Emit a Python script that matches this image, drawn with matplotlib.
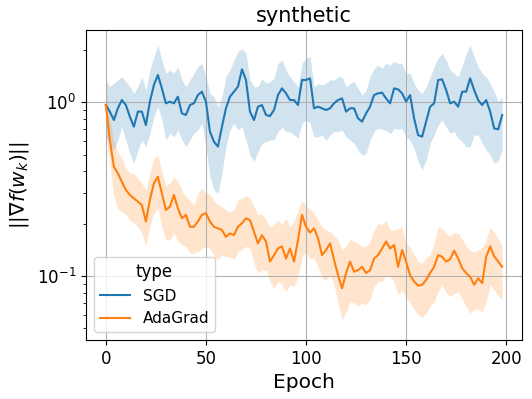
import matplotlib
matplotlib.use("Agg")
import matplotlib.pyplot as plt

# values, every 2nd epoch
epochs = list(range(0, 199, 2))

sgd_mean = [0.965, 0.884, 0.791, 0.924, 1.031, 0.965, 0.827, 0.724, 0.884, 0.884,
            0.740, 1.009, 1.258, 1.437, 1.204, 0.987, 1.009, 0.987, 1.078, 0.864,
            0.846, 0.965, 0.987, 1.102, 1.152, 1.009, 0.678, 0.593, 0.556, 0.724,
            0.924, 1.078, 1.152, 1.231, 1.549, 1.345, 0.884, 0.791, 0.944, 0.965,
            0.846, 0.834, 0.903, 1.102, 1.204, 1.127, 1.031, 1.031, 0.965, 1.345,
            1.345, 1.375, 0.924, 0.944, 0.924, 0.903, 0.924, 0.987, 1.031, 1.054,
            0.884, 0.924, 0.924, 0.809, 0.774, 0.864, 0.944, 1.102, 1.127, 1.137,
            1.054, 0.987, 1.204, 1.188, 1.127, 1.009, 1.102, 0.809, 0.648, 0.634,
            0.774, 0.944, 0.987, 1.345, 1.356, 1.178, 0.987, 1.009, 0.944, 1.152,
            1.152, 1.375, 1.178, 1.031, 0.965, 1.031, 0.884, 0.708, 0.699, 0.846]
sgd_hi = [1.345, 1.231, 1.286, 1.345, 1.405, 1.315, 1.231, 1.127, 1.231, 1.405,
          1.178, 1.535, 1.832, 2.139, 1.753, 1.469, 1.535, 1.469, 1.605, 1.345,
          1.231, 1.345, 1.469, 1.605, 1.677, 1.405, 1.127, 1.078, 0.944, 1.078,
          1.405, 1.535, 1.753, 1.957, 2.046, 1.915, 1.345, 1.231, 1.231, 1.375,
          1.286, 1.315, 1.375, 1.677, 1.753, 1.535, 1.405, 1.315, 1.231, 1.677,
          1.792, 1.832, 1.231, 1.286, 1.258, 1.286, 1.345, 1.345, 1.405, 1.405,
          1.231, 1.286, 1.315, 1.204, 1.102, 1.178, 1.405, 1.570, 1.641, 1.570,
          1.677, 1.641, 1.715, 1.677, 1.677, 1.469, 1.469, 1.286, 1.178, 1.127,
          1.231, 1.405, 1.605, 1.792, 1.915, 1.753, 1.535, 1.469, 1.405, 1.605,
          1.915, 2.139, 1.832, 1.605, 1.469, 1.405, 1.286, 1.152, 1.009, 1.078]
sgd_lo = [0.634, 0.581, 0.532, 0.607, 0.724, 0.607, 0.508, 0.445, 0.532, 0.607,
          0.556, 0.663, 0.827, 0.944, 0.791, 0.607, 0.663, 0.634, 0.693, 0.607,
          0.556, 0.607, 0.663, 0.693, 0.757, 0.556, 0.373, 0.313, 0.299, 0.390,
          0.556, 0.693, 0.757, 0.693, 0.724, 0.607, 0.497, 0.455, 0.520, 0.581,
          0.593, 0.607, 0.607, 0.678, 0.718, 0.678, 0.678, 0.648, 0.620, 0.757,
          0.791, 0.757, 0.634, 0.634, 0.648, 0.607, 0.648, 0.678, 0.678, 0.693,
          0.634, 0.607, 0.581, 0.532, 0.497, 0.508, 0.607, 0.678, 0.708, 0.699,
          0.687, 0.657, 0.708, 0.699, 0.708, 0.634, 0.601, 0.543, 0.455, 0.408,
          0.465, 0.581, 0.648, 0.740, 0.791, 0.724, 0.663, 0.678, 0.620, 0.593,
          0.556, 0.556, 0.648, 0.648, 0.581, 0.532, 0.497, 0.445, 0.461, 0.532]

ada_mean = [0.965, 0.607, 0.426, 0.390, 0.349, 0.313, 0.293, 0.280, 0.268, 0.256,
            0.206, 0.274, 0.342, 0.373, 0.299, 0.240, 0.251, 0.293, 0.245, 0.215,
            0.225, 0.192, 0.192, 0.206, 0.225, 0.230, 0.206, 0.192, 0.188, 0.184,
            0.168, 0.176, 0.172, 0.192, 0.201, 0.215, 0.210, 0.180, 0.154, 0.172,
            0.158, 0.121, 0.132, 0.144, 0.148, 0.126, 0.144, 0.121, 0.161, 0.225,
            0.192, 0.178, 0.188, 0.165, 0.132, 0.141, 0.154, 0.124, 0.101, 0.085,
            0.104, 0.121, 0.106, 0.108, 0.113, 0.104, 0.108, 0.126, 0.132, 0.144,
            0.158, 0.144, 0.151, 0.113, 0.141, 0.121, 0.101, 0.093, 0.088, 0.089,
            0.095, 0.104, 0.113, 0.132, 0.129, 0.121, 0.125, 0.140, 0.126, 0.111,
            0.104, 0.099, 0.089, 0.097, 0.091, 0.129, 0.148, 0.130, 0.121, 0.113]
ada_hi = [1.225, 0.800, 0.600, 0.520, 0.476, 0.417, 0.390, 0.390, 0.365, 0.342,
          0.313, 0.390, 0.476, 0.497, 0.399, 0.334, 0.342, 0.373, 0.349, 0.313,
          0.286, 0.274, 0.256, 0.299, 0.320, 0.299, 0.297, 0.272, 0.256, 0.251,
          0.240, 0.235, 0.242, 0.274, 0.280, 0.290, 0.280, 0.251, 0.225, 0.228,
          0.212, 0.191, 0.197, 0.210, 0.197, 0.215, 0.192, 0.206, 0.240, 0.274,
          0.251, 0.245, 0.230, 0.210, 0.192, 0.184, 0.180, 0.170, 0.161, 0.141,
          0.149, 0.163, 0.158, 0.154, 0.148, 0.148, 0.158, 0.184, 0.201, 0.197,
          0.210, 0.184, 0.184, 0.188, 0.192, 0.154, 0.146, 0.132, 0.121, 0.118,
          0.129, 0.132, 0.153, 0.192, 0.188, 0.176, 0.170, 0.178, 0.176, 0.163,
          0.148, 0.140, 0.137, 0.141, 0.146, 0.161, 0.191, 0.178, 0.164, 0.148]
ada_lo = [0.632, 0.450, 0.286, 0.245, 0.235, 0.225, 0.210, 0.201, 0.192, 0.176,
          0.148, 0.192, 0.230, 0.245, 0.192, 0.161, 0.161, 0.176, 0.158, 0.151,
          0.148, 0.135, 0.135, 0.138, 0.144, 0.148, 0.144, 0.129, 0.124, 0.132,
          0.129, 0.129, 0.124, 0.138, 0.142, 0.148, 0.144, 0.119, 0.104, 0.108,
          0.108, 0.093, 0.085, 0.093, 0.089, 0.081, 0.089, 0.087, 0.099, 0.129,
          0.138, 0.126, 0.126, 0.113, 0.097, 0.095, 0.101, 0.089, 0.070, 0.056,
          0.062, 0.071, 0.070, 0.067, 0.070, 0.068, 0.073, 0.087, 0.093, 0.093,
          0.101, 0.099, 0.093, 0.078, 0.082, 0.076, 0.070, 0.064, 0.060, 0.058,
          0.061, 0.067, 0.071, 0.081, 0.089, 0.080, 0.076, 0.079, 0.081, 0.074,
          0.067, 0.061, 0.064, 0.065, 0.062, 0.071, 0.089, 0.083, 0.077, 0.073]

series = [
    ("SGD", sgd_mean, sgd_lo, sgd_hi, "#1f77b4"),
    ("AdaGrad", ada_mean, ada_lo, ada_hi, "#ff7f0e"),
]


def main() -> None:
    fig = plt.figure(figsize=(5.32, 3.99), dpi=100)
    ax = fig.add_axes([0.1617, 0.1479, 0.8195, 0.7769])

    for name, mean, lo, hi, color in series:
        ax.fill_between(epochs, lo, hi, color=color, alpha=0.2, linewidth=0)
        ax.plot(epochs, mean, color=color, linewidth=1.5, label=name)

    ax.set_yscale("log")
    ax.set_xlim(-9.9, 207.9)
    ax.set_ylim(0.0428, 2.61)
    ax.set_xticks([0, 50, 100, 150, 200])
    ax.grid(True, which="major", color="#b0b0b0", linewidth=0.8)
    ax.tick_params(labelsize=12)

    ax.set_xlabel("Epoch", fontsize=14.5)
    ax.set_ylabel(r"$||\nabla f(w_k)||$", fontsize=14.5)
    ax.set_title("synthetic", fontsize=15)

    leg = ax.legend(title="type", loc="lower left", fontsize=11)
    leg.get_title().set_fontsize(12)

    fig.savefig("out.png", dpi=100)
    plt.close(fig)


if __name__ == "__main__":
    main()
